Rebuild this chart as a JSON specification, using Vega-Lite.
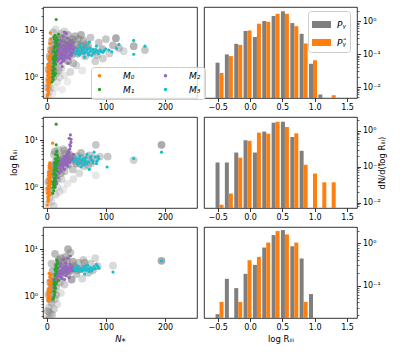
{
  "$schema": "https://vega.github.io/schema/vega-lite/v6.json",
  "padding": {"left": 8, "top": 6, "right": 5, "bottom": 5},
  "background": "white",
  "config": {
    "font": "DejaVu Sans",
    "view": {"stroke": "black", "strokeWidth": 0.8},
    "axis": {"domain": false, "grid": false, "tickColor": "black", "tickWidth": 0.8, "tickSize": 3.5, "labelFontSize": 8, "labelColor": "black", "labelPadding": 2, "titleFontSize": 8.5, "titleFontWeight": "normal", "titleColor": "black"}
  },
  "datasets": {
    "g1": [
      {"N":2,"R":0.4,"w":0.2},{"N":4,"R":0.5,"w":0.15},{"N":6,"R":0.6,"w":0.2},{"N":3,"R":0.75,"w":0.25},{"N":8,"R":0.9,"w":0.3},{"N":5,"R":1.2,"w":0.4},{"N":10,"R":0.45,"w":0.1},{"N":14,"R":0.6,"w":0.1},{"N":18,"R":0.8,"w":0.15},{"N":22,"R":1.0,"w":0.2},{"N":12,"R":1.5,"w":0.5},{"N":16,"R":2.0,"w":0.6},{"N":9,"R":2.5,"w":0.5},{"N":20,"R":3.0,"w":0.7},{"N":25,"R":1.6,"w":0.3},{"N":28,"R":2.4,"w":0.5},{"N":30,"R":1.1,"w":0.15},{"N":35,"R":0.8,"w":0.1},{"N":7,"R":4,"w":0.5},{"N":13,"R":5,"w":0.6},{"N":18,"R":7,"w":0.5},{"N":24,"R":8.5,"w":0.4},{"N":30,"R":9.5,"w":0.3},{"N":11,"R":9,"w":0.4},{"N":15,"R":10.5,"w":0.2},{"N":34,"R":6,"w":0.6},{"N":38,"R":4.5,"w":0.7},{"N":42,"R":3,"w":0.6},{"N":45,"R":2.0,"w":0.5},{"N":48,"R":7.5,"w":0.6},{"N":52,"R":5,"w":0.7},{"N":55,"R":3.5,"w":0.6},{"N":58,"R":8,"w":0.7},{"N":62,"R":6,"w":0.6},{"N":65,"R":2.8,"w":0.5},{"N":70,"R":4.5,"w":0.6},{"N":74,"R":7,"w":0.5},{"N":78,"R":3.5,"w":0.6},{"N":82,"R":2.2,"w":0.4},{"N":88,"R":5.5,"w":0.5},{"N":94,"R":4,"w":0.6},{"N":100,"R":6.5,"w":0.5},{"N":106,"R":3.2,"w":0.4},{"N":112,"R":4.8,"w":0.6},{"N":117,"R":6.8,"w":0.8},{"N":122,"R":4.2,"w":0.5},{"N":130,"R":3.6,"w":0.3},{"N":147,"R":4.6,"w":0.7},{"N":166,"R":3.8,"w":0.5},{"N":40,"R":1.3,"w":0.3},{"N":26,"R":0.55,"w":0.1},{"N":50,"R":1.8,"w":0.3},{"N":60,"R":1.4,"w":0.15},
      {"N":20,"R":4.5,"w":0.7},{"N":26,"R":5.5,"w":0.7},{"N":32,"R":3.5,"w":0.7},{"N":28,"R":6.5,"w":0.6},{"N":42,"R":5.5,"w":0.7},{"N":46,"R":4.0,"w":0.7},{"N":36,"R":2.2,"w":0.6},{"N":54,"R":6.5,"w":0.6},{"N":66,"R":5.0,"w":0.6},{"N":85,"R":3.0,"w":0.5},{"N":95,"R":2.5,"w":0.4},{"N":6,"R":1.8,"w":0.5},{"N":10,"R":3.5,"w":0.6},{"N":16,"R":1.2,"w":0.4},
      {"N":3,"R":1.5,"w":0.6},{"N":8,"R":2.0,"w":0.7},{"N":12,"R":3.0,"w":0.7},{"N":5,"R":2.8,"w":0.6},{"N":14,"R":4.0,"w":0.7},{"N":22,"R":3.8,"w":0.8},{"N":27,"R":3.0,"w":0.7},{"N":33,"R":4.5,"w":0.8},{"N":40,"R":5.5,"w":0.7},{"N":30,"R":5.0,"w":0.7},{"N":18,"R":5.5,"w":0.7},{"N":24,"R":7.0,"w":0.6},{"N":36,"R":8.0,"w":0.6},{"N":44,"R":6.5,"w":0.7},{"N":52,"R":3.2,"w":0.7},{"N":58,"R":4.6,"w":0.7},{"N":63,"R":3.8,"w":0.6},{"N":9,"R":6.0,"w":0.6},{"N":4,"R":0.9,"w":0.4},{"N":11,"R":1.0,"w":0.5},{"N":20,"R":1.4,"w":0.5},{"N":2,"R":0.6,"w":0.4}
    ],
    "g2": [
      {"N":2,"R":0.45,"w":0.2},{"N":5,"R":0.6,"w":0.3},{"N":8,"R":0.5,"w":0.2},{"N":12,"R":0.4,"w":0.3},{"N":15,"R":0.7,"w":0.3},{"N":3,"R":0.9,"w":0.3},{"N":10,"R":1.1,"w":0.4},{"N":18,"R":1.0,"w":0.2},{"N":22,"R":0.8,"w":0.15},{"N":28,"R":0.9,"w":0.1},{"N":6,"R":1.6,"w":0.4},{"N":14,"R":2.0,"w":0.5},{"N":20,"R":2.6,"w":0.6},{"N":25,"R":1.5,"w":0.3},{"N":30,"R":2.2,"w":0.5},{"N":9,"R":3.0,"w":0.5},{"N":16,"R":3.8,"w":0.6},{"N":24,"R":4.5,"w":0.6},{"N":32,"R":5.2,"w":0.5},{"N":12,"R":5.0,"w":0.4},{"N":20,"R":6.2,"w":0.4},{"N":36,"R":3.0,"w":0.6},{"N":40,"R":4.0,"w":0.7},{"N":44,"R":2.4,"w":0.5},{"N":48,"R":3.6,"w":0.6},{"N":52,"R":4.6,"w":0.5},{"N":56,"R":3.2,"w":0.6},{"N":60,"R":4.2,"w":0.5},{"N":64,"R":2.8,"w":0.4},{"N":68,"R":3.8,"w":0.5},{"N":72,"R":4.8,"w":0.5},{"N":76,"R":3.3,"w":0.4},{"N":80,"R":4.2,"w":0.5},{"N":83,"R":8.0,"w":0.5},{"N":83,"R":1.8,"w":0.15},{"N":90,"R":4.5,"w":0.4},{"N":103,"R":4.5,"w":0.5},{"N":147,"R":3.8,"w":0.4},{"N":194,"R":8.0,"w":0.8},{"N":45,"R":1.5,"w":0.2},{"N":35,"R":1.2,"w":0.15},{"N":55,"R":2.0,"w":0.3},{"N":28,"R":6.5,"w":0.4},{"N":8,"R":2.3,"w":0.5},
      {"N":3,"R":1.3,"w":0.6},{"N":7,"R":2.0,"w":0.6},{"N":11,"R":2.8,"w":0.7},{"N":17,"R":3.0,"w":0.7},{"N":22,"R":3.5,"w":0.8},{"N":27,"R":4.0,"w":0.7},{"N":33,"R":3.6,"w":0.8},{"N":38,"R":5.0,"w":0.7},{"N":44,"R":4.4,"w":0.7},{"N":50,"R":3.2,"w":0.6},{"N":58,"R":5.4,"w":0.6},{"N":14,"R":5.8,"w":0.6},{"N":24,"R":2.0,"w":0.6},{"N":30,"R":6.0,"w":0.5},{"N":6,"R":0.8,"w":0.5},{"N":18,"R":1.5,"w":0.5},{"N":62,"R":3.5,"w":0.6},{"N":70,"R":3.0,"w":0.5}
    ],
    "g3": [
      {"N":2,"R":0.36,"w":0.3},{"N":5,"R":0.45,"w":0.4},{"N":9,"R":0.42,"w":0.5},{"N":12,"R":0.55,"w":0.4},{"N":4,"R":0.6,"w":0.3},{"N":8,"R":0.75,"w":0.5},{"N":14,"R":0.9,"w":0.4},{"N":3,"R":1.1,"w":0.5},{"N":10,"R":1.3,"w":0.6},{"N":16,"R":1.6,"w":0.5},{"N":6,"R":2.0,"w":0.6},{"N":12,"R":2.6,"w":0.7},{"N":18,"R":3.2,"w":0.6},{"N":22,"R":2.0,"w":0.5},{"N":26,"R":4.0,"w":0.6},{"N":8,"R":5.0,"w":0.5},{"N":14,"R":8.0,"w":0.6},{"N":20,"R":6.0,"w":0.6},{"N":28,"R":5.5,"w":0.5},{"N":32,"R":7.0,"w":0.6},{"N":36,"R":10,"w":0.7},{"N":40,"R":8.5,"w":0.5},{"N":42,"R":2.3,"w":0.8},{"N":46,"R":4.5,"w":0.6},{"N":50,"R":3.0,"w":0.5},{"N":54,"R":5.2,"w":0.5},{"N":58,"R":3.8,"w":0.6},{"N":62,"R":6.0,"w":0.4},{"N":66,"R":4.2,"w":0.5},{"N":70,"R":3.2,"w":0.5},{"N":74,"R":5.0,"w":0.4},{"N":78,"R":3.6,"w":0.5},{"N":82,"R":6.5,"w":0.3},{"N":86,"R":4.4,"w":0.4},{"N":112,"R":4.5,"w":0.3},{"N":194,"R":5.7,"w":0.8},{"N":24,"R":1.2,"w":0.2},{"N":30,"R":1.8,"w":0.4},{"N":35,"R":3.0,"w":0.6},{"N":18,"R":0.7,"w":0.2},{"N":60,"R":2.4,"w":0.3},
      {"N":2,"R":0.5,"w":0.6},{"N":6,"R":0.9,"w":0.6},{"N":10,"R":1.8,"w":0.7},{"N":14,"R":2.2,"w":0.7},{"N":20,"R":2.6,"w":0.7},{"N":25,"R":3.0,"w":0.8},{"N":30,"R":4.5,"w":0.8},{"N":38,"R":3.5,"w":0.8},{"N":44,"R":5.5,"w":0.7},{"N":48,"R":4.0,"w":0.7},{"N":24,"R":6.5,"w":0.7},{"N":18,"R":4.5,"w":0.7},{"N":10,"R":3.5,"w":0.6},{"N":34,"R":5.8,"w":0.7},{"N":52,"R":3.6,"w":0.6},{"N":64,"R":5.2,"w":0.6},{"N":6,"R":1.4,"w":0.6},{"N":16,"R":1.1,"w":0.5}
    ],
    "c1": [
      {"N":1,"R":0.38,"m":"M₀"},{"N":2,"R":0.42,"m":"M₀"},{"N":3,"R":0.5,"m":"M₀"},{"N":1,"R":0.55,"m":"M₀"},{"N":4,"R":0.6,"m":"M₀"},{"N":2,"R":0.68,"m":"M₀"},{"N":5,"R":0.75,"m":"M₀"},{"N":3,"R":0.82,"m":"M₀"},{"N":1,"R":0.9,"m":"M₀"},{"N":4,"R":1.0,"m":"M₀"},{"N":2,"R":1.1,"m":"M₀"},{"N":6,"R":1.2,"m":"M₀"},{"N":3,"R":1.35,"m":"M₀"},{"N":5,"R":1.5,"m":"M₀"},{"N":4,"R":1.7,"m":"M₀"},{"N":2,"R":1.9,"m":"M₀"},{"N":6,"R":2.2,"m":"M₀"},{"N":5,"R":2.6,"m":"M₀"},{"N":7,"R":3.0,"m":"M₀"},{"N":4,"R":3.5,"m":"M₀"},{"N":6,"R":4.2,"m":"M₀"},{"N":5,"R":5.2,"m":"M₀"},{"N":7,"R":6.5,"m":"M₀"},{"N":6,"R":8.8,"m":"M₀"},{"N":3,"R":0.45,"m":"M₀"},{"N":2,"R":0.78,"m":"M₀"},{"N":6,"R":0.95,"m":"M₀"},{"N":4,"R":1.25,"m":"M₀"},
      {"N":1,"R":0.42,"m":"M₀"},{"N":3,"R":0.62,"m":"M₀"},{"N":2,"R":0.58,"m":"M₀"},{"N":4,"R":0.72,"m":"M₀"},{"N":5,"R":0.88,"m":"M₀"},{"N":3,"R":1.05,"m":"M₀"},{"N":1,"R":1.3,"m":"M₀"},{"N":4,"R":1.45,"m":"M₀"},{"N":2,"R":1.6,"m":"M₀"},{"N":5,"R":1.8,"m":"M₀"},{"N":3,"R":2.4,"m":"M₀"},{"N":4,"R":2.8,"m":"M₀"},
      {"N":9,"R":0.8,"m":"M₁"},{"N":11,"R":0.9,"m":"M₁"},{"N":10,"R":1.0,"m":"M₁"},{"N":13,"R":1.1,"m":"M₁"},{"N":12,"R":1.3,"m":"M₁"},{"N":14,"R":1.5,"m":"M₁"},{"N":11,"R":1.7,"m":"M₁"},{"N":15,"R":1.9,"m":"M₁"},{"N":13,"R":2.1,"m":"M₁"},{"N":16,"R":2.4,"m":"M₁"},{"N":12,"R":2.7,"m":"M₁"},{"N":17,"R":3.0,"m":"M₁"},{"N":14,"R":3.4,"m":"M₁"},{"N":18,"R":3.8,"m":"M₁"},{"N":13,"R":4.2,"m":"M₁"},{"N":16,"R":4.8,"m":"M₁"},{"N":15,"R":5.5,"m":"M₁"},{"N":19,"R":6.2,"m":"M₁"},{"N":17,"R":7.0,"m":"M₁"},{"N":14,"R":7.8,"m":"M₁"},{"N":20,"R":8.3,"m":"M₁"},{"N":16,"R":17,"m":"M₁"},{"N":12,"R":2.0,"m":"M₁"},{"N":18,"R":2.6,"m":"M₁"},{"N":10,"R":1.2,"m":"M₁"},{"N":15,"R":1.2,"m":"M₁"},{"N":19,"R":4.4,"m":"M₁"},{"N":21,"R":5.0,"m":"M₁"},
      {"N":10,"R":1.4,"m":"M₁"},{"N":12,"R":1.6,"m":"M₁"},{"N":14,"R":2.2,"m":"M₁"},{"N":11,"R":2.4,"m":"M₁"},{"N":13,"R":2.8,"m":"M₁"},{"N":15,"R":3.1,"m":"M₁"},{"N":12,"R":3.6,"m":"M₁"},{"N":14,"R":4.6,"m":"M₁"},{"N":16,"R":5.9,"m":"M₁"},{"N":13,"R":6.5,"m":"M₁"},{"N":11,"R":1.05,"m":"M₁"},{"N":15,"R":2.6,"m":"M₁"},{"N":17,"R":3.5,"m":"M₁"},{"N":12,"R":7.2,"m":"M₁"},{"N":18,"R":5.2,"m":"M₁"},
      {"N":18,"R":2.2,"m":"M₂"},{"N":20,"R":2.6,"m":"M₂"},{"N":22,"R":3.0,"m":"M₂"},{"N":24,"R":2.0,"m":"M₂"},{"N":25,"R":3.4,"m":"M₂"},{"N":26,"R":2.5,"m":"M₂"},{"N":27,"R":4.0,"m":"M₂"},{"N":28,"R":3.0,"m":"M₂"},{"N":29,"R":2.3,"m":"M₂"},{"N":30,"R":3.6,"m":"M₂"},{"N":31,"R":4.5,"m":"M₂"},{"N":32,"R":2.8,"m":"M₂"},{"N":33,"R":3.3,"m":"M₂"},{"N":34,"R":4.0,"m":"M₂"},{"N":35,"R":2.6,"m":"M₂"},{"N":36,"R":3.8,"m":"M₂"},{"N":37,"R":5.0,"m":"M₂"},{"N":38,"R":3.0,"m":"M₂"},{"N":39,"R":4.3,"m":"M₂"},{"N":40,"R":3.5,"m":"M₂"},{"N":42,"R":2.9,"m":"M₂"},{"N":43,"R":4.6,"m":"M₂"},{"N":45,"R":3.8,"m":"M₂"},{"N":22,"R":5.2,"m":"M₂"},{"N":25,"R":6.0,"m":"M₂"},{"N":28,"R":7.5,"m":"M₂"},{"N":30,"R":9.2,"m":"M₂"},{"N":35,"R":6.8,"m":"M₂"},{"N":40,"R":6.0,"m":"M₂"},{"N":33,"R":8.5,"m":"M₂"},{"N":20,"R":4.2,"m":"M₂"},{"N":26,"R":1.7,"m":"M₂"},{"N":44,"R":5.5,"m":"M₂"},{"N":47,"R":4.2,"m":"M₂"},{"N":36,"R":2.0,"m":"M₂"},
      {"N":19,"R":3.2,"m":"M₂"},{"N":21,"R":3.8,"m":"M₂"},{"N":23,"R":2.6,"m":"M₂"},{"N":24,"R":4.4,"m":"M₂"},{"N":26,"R":3.1,"m":"M₂"},{"N":27,"R":2.2,"m":"M₂"},{"N":29,"R":3.7,"m":"M₂"},{"N":31,"R":3.0,"m":"M₂"},{"N":32,"R":4.1,"m":"M₂"},{"N":34,"R":3.4,"m":"M₂"},{"N":35,"R":4.6,"m":"M₂"},{"N":37,"R":2.9,"m":"M₂"},{"N":38,"R":3.9,"m":"M₂"},{"N":39,"R":2.5,"m":"M₂"},{"N":41,"R":3.2,"m":"M₂"},{"N":42,"R":4.0,"m":"M₂"},{"N":44,"R":3.3,"m":"M₂"},{"N":23,"R":3.5,"m":"M₂"},{"N":28,"R":4.8,"m":"M₂"},{"N":33,"R":5.5,"m":"M₂"},{"N":30,"R":2.6,"m":"M₂"},{"N":36,"R":4.3,"m":"M₂"},{"N":40,"R":4.9,"m":"M₂"},{"N":25,"R":2.8,"m":"M₂"},{"N":21,"R":2.4,"m":"M₂"},
      {"N":48,"R":3.5,"m":"M₃"},{"N":52,"R":4.0,"m":"M₃"},{"N":55,"R":3.0,"m":"M₃"},{"N":58,"R":4.4,"m":"M₃"},{"N":60,"R":3.6,"m":"M₃"},{"N":63,"R":3.2,"m":"M₃"},{"N":66,"R":4.8,"m":"M₃"},{"N":68,"R":3.8,"m":"M₃"},{"N":70,"R":3.3,"m":"M₃"},{"N":73,"R":4.2,"m":"M₃"},{"N":76,"R":2.9,"m":"M₃"},{"N":78,"R":3.9,"m":"M₃"},{"N":81,"R":3.5,"m":"M₃"},{"N":84,"R":4.6,"m":"M₃"},{"N":87,"R":3.2,"m":"M₃"},{"N":90,"R":3.8,"m":"M₃"},{"N":95,"R":3.4,"m":"M₃"},{"N":100,"R":4.0,"m":"M₃"},{"N":105,"R":3.8,"m":"M₃"},{"N":110,"R":3.5,"m":"M₃"},{"N":118,"R":4.1,"m":"M₃"},{"N":122,"R":5.0,"m":"M₃"},{"N":147,"R":6.1,"m":"M₃"},{"N":147,"R":3.1,"m":"M₃"},{"N":166,"R":4.6,"m":"M₃"},{"N":72,"R":5.6,"m":"M₃"},{"N":64,"R":2.7,"m":"M₃"},
      {"N":50,"R":3.2,"m":"M₃"},{"N":54,"R":3.6,"m":"M₃"},{"N":57,"R":3.3,"m":"M₃"},{"N":61,"R":4.1,"m":"M₃"},{"N":65,"R":3.5,"m":"M₃"},{"N":69,"R":4.0,"m":"M₃"},{"N":74,"R":3.6,"m":"M₃"},{"N":79,"R":3.3,"m":"M₃"},{"N":83,"R":3.9,"m":"M₃"},{"N":86,"R":3.6,"m":"M₃"},{"N":92,"R":3.5,"m":"M₃"},{"N":97,"R":3.7,"m":"M₃"},{"N":62,"R":3.9,"m":"M₃"},{"N":71,"R":3.0,"m":"M₃"},{"N":56,"R":4.9,"m":"M₃"}
    ],
    "c2": [
      {"N":1,"R":0.42,"m":"M₀"},{"N":3,"R":0.55,"m":"M₀"},{"N":2,"R":0.62,"m":"M₀"},{"N":5,"R":0.7,"m":"M₀"},{"N":4,"R":0.8,"m":"M₀"},{"N":2,"R":0.88,"m":"M₀"},{"N":6,"R":0.95,"m":"M₀"},{"N":3,"R":1.05,"m":"M₀"},{"N":5,"R":1.15,"m":"M₀"},{"N":2,"R":1.25,"m":"M₀"},{"N":4,"R":1.4,"m":"M₀"},{"N":6,"R":1.6,"m":"M₀"},{"N":3,"R":1.8,"m":"M₀"},{"N":5,"R":2.0,"m":"M₀"},{"N":7,"R":2.3,"m":"M₀"},{"N":4,"R":2.6,"m":"M₀"},{"N":6,"R":3.0,"m":"M₀"},{"N":5,"R":3.3,"m":"M₀"},{"N":8,"R":1.3,"m":"M₀"},{"N":10,"R":8.7,"m":"M₀"},{"N":1,"R":0.75,"m":"M₀"},{"N":7,"R":1.9,"m":"M₀"},
      {"N":2,"R":0.5,"m":"M₀"},{"N":4,"R":0.65,"m":"M₀"},{"N":3,"R":0.72,"m":"M₀"},{"N":1,"R":0.95,"m":"M₀"},{"N":5,"R":1.0,"m":"M₀"},{"N":4,"R":1.2,"m":"M₀"},{"N":6,"R":1.35,"m":"M₀"},{"N":2,"R":1.5,"m":"M₀"},{"N":5,"R":1.7,"m":"M₀"},{"N":3,"R":2.1,"m":"M₀"},{"N":6,"R":2.6,"m":"M₀"},{"N":4,"R":2.9,"m":"M₀"},
      {"N":10,"R":0.75,"m":"M₁"},{"N":12,"R":0.85,"m":"M₁"},{"N":11,"R":1.0,"m":"M₁"},{"N":14,"R":1.1,"m":"M₁"},{"N":13,"R":1.25,"m":"M₁"},{"N":15,"R":1.4,"m":"M₁"},{"N":12,"R":1.6,"m":"M₁"},{"N":16,"R":1.8,"m":"M₁"},{"N":14,"R":2.0,"m":"M₁"},{"N":13,"R":2.3,"m":"M₁"},{"N":17,"R":2.5,"m":"M₁"},{"N":15,"R":2.8,"m":"M₁"},{"N":18,"R":3.1,"m":"M₁"},{"N":14,"R":3.4,"m":"M₁"},{"N":16,"R":3.8,"m":"M₁"},{"N":19,"R":4.3,"m":"M₁"},{"N":15,"R":5.0,"m":"M₁"},{"N":17,"R":5.8,"m":"M₁"},{"N":16,"R":8.0,"m":"M₁"},{"N":16,"R":22,"m":"M₁"},{"N":20,"R":3.6,"m":"M₁"},{"N":18,"R":2.2,"m":"M₁"},{"N":11,"R":1.3,"m":"M₁"},
      {"N":11,"R":1.15,"m":"M₁"},{"N":13,"R":1.45,"m":"M₁"},{"N":15,"R":1.6,"m":"M₁"},{"N":12,"R":1.9,"m":"M₁"},{"N":14,"R":2.6,"m":"M₁"},{"N":16,"R":3.0,"m":"M₁"},{"N":13,"R":3.2,"m":"M₁"},{"N":17,"R":3.5,"m":"M₁"},{"N":15,"R":4.0,"m":"M₁"},{"N":18,"R":4.8,"m":"M₁"},{"N":16,"R":1.3,"m":"M₁"},{"N":14,"R":1.0,"m":"M₁"},
      {"N":17,"R":1.2,"m":"M₂"},{"N":19,"R":1.6,"m":"M₂"},{"N":21,"R":2.0,"m":"M₂"},{"N":22,"R":2.5,"m":"M₂"},{"N":24,"R":2.2,"m":"M₂"},{"N":25,"R":3.0,"m":"M₂"},{"N":27,"R":2.7,"m":"M₂"},{"N":28,"R":3.4,"m":"M₂"},{"N":30,"R":3.0,"m":"M₂"},{"N":31,"R":3.8,"m":"M₂"},{"N":33,"R":3.3,"m":"M₂"},{"N":34,"R":4.2,"m":"M₂"},{"N":36,"R":3.6,"m":"M₂"},{"N":37,"R":4.8,"m":"M₂"},{"N":38,"R":5.5,"m":"M₂"},{"N":39,"R":6.5,"m":"M₂"},{"N":40,"R":7.5,"m":"M₂"},{"N":41,"R":9.0,"m":"M₂"},{"N":40,"R":13,"m":"M₂"},{"N":38,"R":11,"m":"M₂"},{"N":35,"R":5.2,"m":"M₂"},{"N":32,"R":4.6,"m":"M₂"},{"N":29,"R":4.0,"m":"M₂"},{"N":26,"R":3.6,"m":"M₂"},{"N":23,"R":3.0,"m":"M₂"},{"N":42,"R":3.8,"m":"M₂"},{"N":44,"R":4.2,"m":"M₂"},{"N":20,"R":2.8,"m":"M₂"},{"N":30,"R":2.4,"m":"M₂"},{"N":36,"R":2.8,"m":"M₂"},{"N":45,"R":5.0,"m":"M₂"},
      {"N":22,"R":2.8,"m":"M₂"},{"N":24,"R":3.2,"m":"M₂"},{"N":26,"R":2.9,"m":"M₂"},{"N":28,"R":2.5,"m":"M₂"},{"N":29,"R":3.2,"m":"M₂"},{"N":31,"R":3.4,"m":"M₂"},{"N":32,"R":3.0,"m":"M₂"},{"N":33,"R":3.8,"m":"M₂"},{"N":34,"R":3.1,"m":"M₂"},{"N":35,"R":3.5,"m":"M₂"},{"N":36,"R":4.2,"m":"M₂"},{"N":38,"R":4.0,"m":"M₂"},{"N":39,"R":3.4,"m":"M₂"},{"N":37,"R":6.0,"m":"M₂"},{"N":39,"R":8.0,"m":"M₂"},{"N":41,"R":10.5,"m":"M₂"},{"N":27,"R":3.9,"m":"M₂"},{"N":30,"R":4.4,"m":"M₂"},
      {"N":46,"R":3.6,"m":"M₃"},{"N":50,"R":4.2,"m":"M₃"},{"N":53,"R":3.2,"m":"M₃"},{"N":56,"R":4.6,"m":"M₃"},{"N":60,"R":3.8,"m":"M₃"},{"N":63,"R":3.0,"m":"M₃"},{"N":66,"R":4.3,"m":"M₃"},{"N":70,"R":3.5,"m":"M₃"},{"N":72,"R":2.4,"m":"M₃"},{"N":75,"R":3.9,"m":"M₃"},{"N":78,"R":3.3,"m":"M₃"},{"N":80,"R":5.6,"m":"M₃"},{"N":82,"R":4.4,"m":"M₃"},{"N":85,"R":3.6,"m":"M₃"},{"N":88,"R":4.0,"m":"M₃"},{"N":102,"R":2.7,"m":"M₃"},{"N":147,"R":4.1,"m":"M₃"},{"N":194,"R":5.6,"m":"M₃"},{"N":58,"R":2.7,"m":"M₃"},{"N":68,"R":5.0,"m":"M₃"},
      {"N":48,"R":3.9,"m":"M₃"},{"N":52,"R":3.5,"m":"M₃"},{"N":55,"R":4.0,"m":"M₃"},{"N":58,"R":3.3,"m":"M₃"},{"N":62,"R":4.1,"m":"M₃"},{"N":65,"R":3.6,"m":"M₃"},{"N":68,"R":3.2,"m":"M₃"},{"N":74,"R":4.5,"m":"M₃"},{"N":77,"R":3.7,"m":"M₃"},{"N":84,"R":3.2,"m":"M₃"},{"N":87,"R":4.5,"m":"M₃"}
    ],
    "c3": [
      {"N":1,"R":0.36,"m":"M₀"},{"N":2,"R":0.82,"m":"M₀"},{"N":3,"R":0.9,"m":"M₀"},{"N":4,"R":1.0,"m":"M₀"},{"N":2,"R":1.1,"m":"M₀"},{"N":5,"R":1.2,"m":"M₀"},{"N":3,"R":1.4,"m":"M₀"},{"N":6,"R":1.6,"m":"M₀"},{"N":4,"R":1.8,"m":"M₀"},{"N":5,"R":2.1,"m":"M₀"},{"N":7,"R":2.4,"m":"M₀"},{"N":6,"R":2.8,"m":"M₀"},{"N":4,"R":3.1,"m":"M₀"},{"N":8,"R":2.0,"m":"M₀"},{"N":6,"R":0.95,"m":"M₀"},
      {"N":2,"R":0.9,"m":"M₀"},{"N":3,"R":1.05,"m":"M₀"},{"N":5,"R":1.3,"m":"M₀"},{"N":4,"R":1.5,"m":"M₀"},{"N":6,"R":1.9,"m":"M₀"},{"N":3,"R":2.2,"m":"M₀"},{"N":5,"R":2.6,"m":"M₀"},{"N":7,"R":3.0,"m":"M₀"},{"N":2,"R":1.25,"m":"M₀"},{"N":4,"R":0.85,"m":"M₀"},
      {"N":11,"R":0.9,"m":"M₁"},{"N":13,"R":1.1,"m":"M₁"},{"N":12,"R":1.3,"m":"M₁"},{"N":15,"R":1.5,"m":"M₁"},{"N":14,"R":1.7,"m":"M₁"},{"N":16,"R":2.0,"m":"M₁"},{"N":13,"R":2.3,"m":"M₁"},{"N":17,"R":2.6,"m":"M₁"},{"N":15,"R":3.0,"m":"M₁"},{"N":18,"R":3.4,"m":"M₁"},{"N":14,"R":3.8,"m":"M₁"},{"N":16,"R":4.3,"m":"M₁"},{"N":19,"R":5.0,"m":"M₁"},{"N":17,"R":6.0,"m":"M₁"},{"N":20,"R":2.2,"m":"M₁"},{"N":12,"R":1.8,"m":"M₁"},
      {"N":12,"R":1.0,"m":"M₁"},{"N":14,"R":1.25,"m":"M₁"},{"N":13,"R":1.55,"m":"M₁"},{"N":15,"R":1.85,"m":"M₁"},{"N":16,"R":2.4,"m":"M₁"},{"N":14,"R":2.8,"m":"M₁"},{"N":17,"R":3.2,"m":"M₁"},{"N":15,"R":3.6,"m":"M₁"},{"N":18,"R":4.0,"m":"M₁"},{"N":16,"R":4.7,"m":"M₁"},{"N":18,"R":5.5,"m":"M₁"},{"N":13,"R":2.0,"m":"M₁"},
      {"N":16,"R":2.4,"m":"M₂"},{"N":19,"R":2.8,"m":"M₂"},{"N":21,"R":3.2,"m":"M₂"},{"N":23,"R":2.6,"m":"M₂"},{"N":25,"R":3.6,"m":"M₂"},{"N":27,"R":3.0,"m":"M₂"},{"N":29,"R":4.2,"m":"M₂"},{"N":31,"R":3.4,"m":"M₂"},{"N":33,"R":2.8,"m":"M₂"},{"N":35,"R":4.0,"m":"M₂"},{"N":37,"R":3.3,"m":"M₂"},{"N":39,"R":4.8,"m":"M₂"},{"N":41,"R":3.7,"m":"M₂"},{"N":43,"R":4.4,"m":"M₂"},{"N":45,"R":3.5,"m":"M₂"},{"N":24,"R":5.0,"m":"M₂"},{"N":28,"R":6.0,"m":"M₂"},{"N":32,"R":5.2,"m":"M₂"},{"N":36,"R":6.5,"m":"M₂"},{"N":40,"R":7.2,"m":"M₂"},{"N":30,"R":2.3,"m":"M₂"},{"N":22,"R":4.4,"m":"M₂"},{"N":38,"R":2.5,"m":"M₂"},
      {"N":18,"R":2.6,"m":"M₂"},{"N":20,"R":3.0,"m":"M₂"},{"N":22,"R":3.5,"m":"M₂"},{"N":24,"R":3.0,"m":"M₂"},{"N":26,"R":3.3,"m":"M₂"},{"N":27,"R":4.0,"m":"M₂"},{"N":29,"R":3.2,"m":"M₂"},{"N":30,"R":3.8,"m":"M₂"},{"N":32,"R":3.6,"m":"M₂"},{"N":34,"R":3.1,"m":"M₂"},{"N":36,"R":3.7,"m":"M₂"},{"N":38,"R":4.2,"m":"M₂"},{"N":40,"R":4.0,"m":"M₂"},{"N":42,"R":3.5,"m":"M₂"},{"N":26,"R":2.4,"m":"M₂"},{"N":33,"R":4.5,"m":"M₂"},{"N":44,"R":4.0,"m":"M₂"},
      {"N":47,"R":4.0,"m":"M₃"},{"N":50,"R":3.6,"m":"M₃"},{"N":53,"R":4.4,"m":"M₃"},{"N":56,"R":3.8,"m":"M₃"},{"N":60,"R":3.5,"m":"M₃"},{"N":63,"R":4.2,"m":"M₃"},{"N":66,"R":3.6,"m":"M₃"},{"N":69,"R":4.6,"m":"M₃"},{"N":72,"R":3.9,"m":"M₃"},{"N":76,"R":3.5,"m":"M₃"},{"N":80,"R":4.3,"m":"M₃"},{"N":84,"R":4.8,"m":"M₃"},{"N":88,"R":4.0,"m":"M₃"},{"N":112,"R":3.3,"m":"M₃"},{"N":194,"R":5.7,"m":"M₃"},{"N":64,"R":3.0,"m":"M₃"},
      {"N":48,"R":3.7,"m":"M₃"},{"N":51,"R":4.2,"m":"M₃"},{"N":55,"R":3.5,"m":"M₃"},{"N":58,"R":4.0,"m":"M₃"},{"N":62,"R":3.7,"m":"M₃"},{"N":65,"R":4.4,"m":"M₃"},{"N":68,"R":3.9,"m":"M₃"},{"N":71,"R":3.4,"m":"M₃"},{"N":74,"R":4.1,"m":"M₃"},{"N":78,"R":3.8,"m":"M₃"},{"N":82,"R":3.9,"m":"M₃"},{"N":86,"R":4.4,"m":"M₃"}
    ],
    "h": [
      {"row":1,"s":"Pᵧ","c":-0.471,"v":0.055},{"row":1,"s":"Pᵧ","c":-0.327,"v":0.098},{"row":1,"s":"Pᵧ","c":-0.182,"v":0.205},{"row":1,"s":"Pᵧ","c":-0.038,"v":0.5},{"row":1,"s":"Pᵧ","c":0.107,"v":0.33},{"row":1,"s":"Pᵧ","c":0.251,"v":1.0},{"row":1,"s":"Pᵧ","c":0.396,"v":1.42},{"row":1,"s":"Pᵧ","c":0.54,"v":1.97},{"row":1,"s":"Pᵧ","c":0.685,"v":0.87},{"row":1,"s":"Pᵧ","c":0.829,"v":0.41},{"row":1,"s":"Pᵧ","c":0.974,"v":0.051},{"row":1,"s":"Pᵧ","c":1.118,"v":0.006},
      {"row":1,"s":"Pᵧ̂","c":-0.471,"v":0.027},{"row":1,"s":"Pᵧ̂","c":-0.327,"v":0.087},{"row":1,"s":"Pᵧ̂","c":-0.182,"v":0.19},{"row":1,"s":"Pᵧ̂","c":-0.038,"v":0.52},{"row":1,"s":"Pᵧ̂","c":0.107,"v":0.83},{"row":1,"s":"Pᵧ̂","c":0.251,"v":0.95},{"row":1,"s":"Pᵧ̂","c":0.396,"v":1.66},{"row":1,"s":"Pᵧ̂","c":0.54,"v":1.66},{"row":1,"s":"Pᵧ̂","c":0.685,"v":0.7},{"row":1,"s":"Pᵧ̂","c":0.829,"v":0.21},{"row":1,"s":"Pᵧ̂","c":0.974,"v":0.065},{"row":1,"s":"Pᵧ̂","c":1.263,"v":0.0057},
      {"row":2,"s":"Pᵧ","c":-0.471,"v":0.132},{"row":2,"s":"Pᵧ","c":-0.327,"v":0.132},{"row":2,"s":"Pᵧ","c":-0.182,"v":0.25},{"row":2,"s":"Pᵧ","c":-0.038,"v":0.55},{"row":2,"s":"Pᵧ","c":0.107,"v":0.25},{"row":2,"s":"Pᵧ","c":0.251,"v":0.96},{"row":2,"s":"Pᵧ","c":0.396,"v":1.7},{"row":2,"s":"Pᵧ","c":0.54,"v":1.81},{"row":2,"s":"Pᵧ","c":0.685,"v":0.68},{"row":2,"s":"Pᵧ","c":0.829,"v":0.28},
      {"row":2,"s":"Pᵧ̂","c":-0.471,"v":0.0088},{"row":2,"s":"Pᵧ̂","c":-0.327,"v":0.018},{"row":2,"s":"Pᵧ̂","c":-0.182,"v":0.18},{"row":2,"s":"Pᵧ̂","c":-0.038,"v":0.53},{"row":2,"s":"Pᵧ̂","c":0.107,"v":0.9},{"row":2,"s":"Pᵧ̂","c":0.251,"v":0.84},{"row":2,"s":"Pᵧ̂","c":0.396,"v":1.81},{"row":2,"s":"Pᵧ̂","c":0.54,"v":1.29},{"row":2,"s":"Pᵧ̂","c":0.685,"v":0.86},{"row":2,"s":"Pᵧ̂","c":0.829,"v":0.114},{"row":2,"s":"Pᵧ̂","c":0.974,"v":0.065},{"row":2,"s":"Pᵧ̂","c":1.118,"v":0.037},{"row":2,"s":"Pᵧ̂","c":1.263,"v":0.037},
      {"row":3,"s":"Pᵧ","c":-0.471,"v":0.021},{"row":3,"s":"Pᵧ","c":-0.327,"v":0.145},{"row":3,"s":"Pᵧ","c":-0.182,"v":0.087},{"row":3,"s":"Pᵧ","c":-0.038,"v":0.19},{"row":3,"s":"Pᵧ","c":0.107,"v":0.31},{"row":3,"s":"Pᵧ","c":0.251,"v":0.8},{"row":3,"s":"Pᵧ","c":0.396,"v":1.58},{"row":3,"s":"Pᵧ","c":0.54,"v":2.08},{"row":3,"s":"Pᵧ","c":0.685,"v":0.86},{"row":3,"s":"Pᵧ","c":0.829,"v":0.44},{"row":3,"s":"Pᵧ","c":0.974,"v":0.063},
      {"row":3,"s":"Pᵧ̂","c":-0.471,"v":0.041},{"row":3,"s":"Pᵧ̂","c":-0.182,"v":0.041},{"row":3,"s":"Pᵧ̂","c":-0.038,"v":0.4},{"row":3,"s":"Pᵧ̂","c":0.107,"v":0.48},{"row":3,"s":"Pᵧ̂","c":0.251,"v":1.05},{"row":3,"s":"Pᵧ̂","c":0.396,"v":1.97},{"row":3,"s":"Pᵧ̂","c":0.54,"v":1.64},{"row":3,"s":"Pᵧ̂","c":0.685,"v":1.05},{"row":3,"s":"Pᵧ̂","c":0.829,"v":0.041}
    ]
  },
  "columns": 2,
  "bounds": "flush",
  "spacing": {"row": 19, "column": 7},
  "concat": [
    {
      "width": 154, "height": 91,
      "layer": [
        {"data": {"name": "g1"}, "mark": {"type": "circle", "size": 60, "color": "#7f7f7f", "clip": true},
         "encoding": {
           "x": {"field": "N", "type": "quantitative", "scale": {"domain": [-6.3, 254], "nice": false, "zero": false}, "axis": {"values": [0, 100, 200], "title": null}},
           "y": {"field": "R", "type": "quantitative", "scale": {"type": "log", "domain": [0.363, 31.3], "nice": false}, "axis": {"values": [0.4,0.5,0.6,0.7,0.8,0.9,1,2,3,4,5,6,7,8,9,10,20,30], "labelExpr": "datum.value == 1 ? '10⁰' : datum.value == 10 ? '10¹' : ''", "tickSize": {"condition": {"test": "datum.value == 1 || datum.value == 10", "value": 3.5}, "value": 2}, "tickWidth": {"condition": {"test": "datum.value == 1 || datum.value == 10", "value": 0.8}, "value": 0.6}, "title": null}},
           "opacity": {"field": "w", "type": "quantitative", "scale": {"domain": [0, 1], "range": [0.08, 0.8]}, "legend": null}
         }},
        {"data": {"name": "c1"}, "mark": {"type": "circle", "size": 10, "opacity": 1, "clip": true},
         "encoding": {
           "x": {"field": "N", "type": "quantitative"},
           "y": {"field": "R", "type": "quantitative"},
           "color": {"field": "m", "type": "nominal", "scale": {"domain": ["M₀", "M₁", "M₂", "M₃"], "range": ["#ff7f0e", "#2ca02c", "#9467bd", "#17becf"]},
             "legend": {"orient": "none", "legendX": 48, "legendY": 60, "columns": 2, "title": null, "symbolType": "circle", "symbolSize": 12, "labelFontSize": 9, "labelOffset": 19, "columnPadding": 26, "rowPadding": 4, "padding": 4, "fillColor": "rgba(255,255,255,0.8)", "strokeColor": "#cccccc", "cornerRadius": 3, "labelColor": "black", "labelFontStyle": "italic"}}
         }}
      ]
    },
    {
      "width": 153, "height": 91,
      "data": {"name": "h"},
      "transform": [{"filter": "datum.row == 1"}],
      "mark": {"type": "bar", "width": 4, "xOffset": {"expr": "datum.s == 'Pᵧ' ? -2 : 2"}, "clip": true},
      "encoding": {
        "x": {"field": "c", "type": "quantitative", "scale": {"domain": [-0.634, 1.577], "nice": false, "zero": false}, "axis": {"values": [-0.5, 0, 0.5, 1, 1.5], "labelExpr": "replace(format(datum.value, '.1f'), '-', '−')", "title": null}},
        "y": {"field": "v", "type": "quantitative", "stack": null, "scale": {"type": "log", "domain": [0.0047, 2.66], "nice": false}, "axis": {"orient": "right", "values": [0.005,0.006,0.007,0.008,0.009,0.01,0.02,0.03,0.04,0.05,0.06,0.07,0.08,0.09,0.1,0.2,0.3,0.4,0.5,0.6,0.7,0.8,0.9,1,2], "labelExpr": "datum.value == 1 ? '10⁰' : datum.value == 0.1 ? '10⁻¹' : datum.value == 0.01 ? '10⁻²' : ''", "tickSize": {"condition": {"test": "datum.value == 1 || datum.value == 0.1 || datum.value == 0.01", "value": 3.5}, "value": 2}, "tickWidth": {"condition": {"test": "datum.value == 1 || datum.value == 0.1 || datum.value == 0.01", "value": 0.8}, "value": 0.6}, "title": null}},
        "fill": {"field": "s", "type": "nominal", "scale": {"domain": ["Pᵧ", "Pᵧ̂"], "range": ["#7f7f7f", "#ff7f0e"]},
          "legend": {"orient": "none", "legendX": 265, "legendY": 4, "title": null, "symbolType": "M-1,-0.37H1V0.37H-1Z", "symbolSize": 361, "symbolStrokeWidth": 0, "labelFontSize": 9, "labelOffset": 6, "rowPadding": 3, "padding": 4, "fillColor": "rgba(255,255,255,0.8)", "strokeColor": "#cccccc", "cornerRadius": 3, "labelColor": "black", "labelFontStyle": "italic"}}
      }
    },
    {
      "width": 154, "height": 91,
      "layer": [
        {"data": {"name": "g2"}, "mark": {"type": "circle", "size": 60, "color": "#7f7f7f", "clip": true},
         "encoding": {
           "x": {"field": "N", "type": "quantitative", "scale": {"domain": [-6.3, 254], "nice": false, "zero": false}, "axis": {"values": [0, 100, 200], "title": null}},
           "y": {"field": "R", "type": "quantitative", "scale": {"type": "log", "domain": [0.363, 31.3], "nice": false}, "axis": {"values": [0.4,0.5,0.6,0.7,0.8,0.9,1,2,3,4,5,6,7,8,9,10,20,30], "labelExpr": "datum.value == 1 ? '10⁰' : datum.value == 10 ? '10¹' : ''", "tickSize": {"condition": {"test": "datum.value == 1 || datum.value == 10", "value": 3.5}, "value": 2}, "tickWidth": {"condition": {"test": "datum.value == 1 || datum.value == 10", "value": 0.8}, "value": 0.6}, "title": "log Rᵢᵢᵢ", "titlePadding": 6}},
           "opacity": {"field": "w", "type": "quantitative", "scale": {"domain": [0, 1], "range": [0.08, 0.8]}, "legend": null}
         }},
        {"data": {"name": "c2"}, "mark": {"type": "circle", "size": 10, "opacity": 1, "clip": true},
         "encoding": {
           "x": {"field": "N", "type": "quantitative"},
           "y": {"field": "R", "type": "quantitative"},
           "color": {"field": "m", "type": "nominal", "legend": null}
         }}
      ]
    },
    {
      "width": 153, "height": 91,
      "data": {"name": "h"},
      "transform": [{"filter": "datum.row == 2"}],
      "mark": {"type": "bar", "width": 4, "xOffset": {"expr": "datum.s == 'Pᵧ' ? -2 : 2"}, "clip": true},
      "encoding": {
        "x": {"field": "c", "type": "quantitative", "scale": {"domain": [-0.634, 1.577], "nice": false, "zero": false}, "axis": {"values": [-0.5, 0, 0.5, 1, 1.5], "labelExpr": "replace(format(datum.value, '.1f'), '-', '−')", "title": null}},
        "y": {"field": "v", "type": "quantitative", "stack": null, "scale": {"type": "log", "domain": [0.0071, 2.45], "nice": false}, "axis": {"orient": "right", "values": [0.008,0.009,0.01,0.02,0.03,0.04,0.05,0.06,0.07,0.08,0.09,0.1,0.2,0.3,0.4,0.5,0.6,0.7,0.8,0.9,1,2], "labelExpr": "datum.value == 1 ? '10⁰' : datum.value == 0.1 ? '10⁻¹' : datum.value == 0.01 ? '10⁻²' : ''", "tickSize": {"condition": {"test": "datum.value == 1 || datum.value == 0.1 || datum.value == 0.01", "value": 3.5}, "value": 2}, "tickWidth": {"condition": {"test": "datum.value == 1 || datum.value == 0.1 || datum.value == 0.01", "value": 0.8}, "value": 0.6}, "title": "dN/d(log Rᵢᵢᵢ)", "titleAngle": 270, "titlePadding": 6}},
        "fill": {"field": "s", "type": "nominal", "legend": null}
      }
    },
    {
      "width": 154, "height": 91,
      "layer": [
        {"data": {"name": "g3"}, "mark": {"type": "circle", "size": 60, "color": "#7f7f7f", "clip": true},
         "encoding": {
           "x": {"field": "N", "type": "quantitative", "scale": {"domain": [-6.3, 254], "nice": false, "zero": false}, "axis": {"values": [0, 100, 200], "title": "N⁎", "titleFontStyle": "italic", "titlePadding": 3}},
           "y": {"field": "R", "type": "quantitative", "scale": {"type": "log", "domain": [0.357, 29.4], "nice": false}, "axis": {"values": [0.4,0.5,0.6,0.7,0.8,0.9,1,2,3,4,5,6,7,8,9,10,20], "labelExpr": "datum.value == 1 ? '10⁰' : datum.value == 10 ? '10¹' : ''", "tickSize": {"condition": {"test": "datum.value == 1 || datum.value == 10", "value": 3.5}, "value": 2}, "tickWidth": {"condition": {"test": "datum.value == 1 || datum.value == 10", "value": 0.8}, "value": 0.6}, "title": null}},
           "opacity": {"field": "w", "type": "quantitative", "scale": {"domain": [0, 1], "range": [0.08, 0.8]}, "legend": null}
         }},
        {"data": {"name": "c3"}, "mark": {"type": "circle", "size": 10, "opacity": 1, "clip": true},
         "encoding": {
           "x": {"field": "N", "type": "quantitative"},
           "y": {"field": "R", "type": "quantitative"},
           "color": {"field": "m", "type": "nominal", "legend": null}
         }}
      ]
    },
    {
      "width": 153, "height": 91,
      "data": {"name": "h"},
      "transform": [{"filter": "datum.row == 3"}],
      "mark": {"type": "bar", "width": 4, "xOffset": {"expr": "datum.s == 'Pᵧ' ? -2 : 2"}, "clip": true},
      "encoding": {
        "x": {"field": "c", "type": "quantitative", "scale": {"domain": [-0.634, 1.577], "nice": false, "zero": false}, "axis": {"values": [-0.5, 0, 0.5, 1, 1.5], "labelExpr": "replace(format(datum.value, '.1f'), '-', '−')", "title": "log Rᵢᵢᵢ", "titlePadding": 3}},
        "y": {"field": "v", "type": "quantitative", "stack": null, "scale": {"type": "log", "domain": [0.017, 2.46], "nice": false}, "axis": {"orient": "right", "values": [0.02,0.03,0.04,0.05,0.06,0.07,0.08,0.09,0.1,0.2,0.3,0.4,0.5,0.6,0.7,0.8,0.9,1,2], "labelExpr": "datum.value == 1 ? '10⁰' : datum.value == 0.1 ? '10⁻¹' : ''", "tickSize": {"condition": {"test": "datum.value == 1 || datum.value == 0.1", "value": 3.5}, "value": 2}, "tickWidth": {"condition": {"test": "datum.value == 1 || datum.value == 0.1", "value": 0.8}, "value": 0.6}, "title": null}},
        "fill": {"field": "s", "type": "nominal", "legend": null}
      }
    }
  ],
  "resolve": {"scale": {"x": "independent", "y": "independent"}}
}
